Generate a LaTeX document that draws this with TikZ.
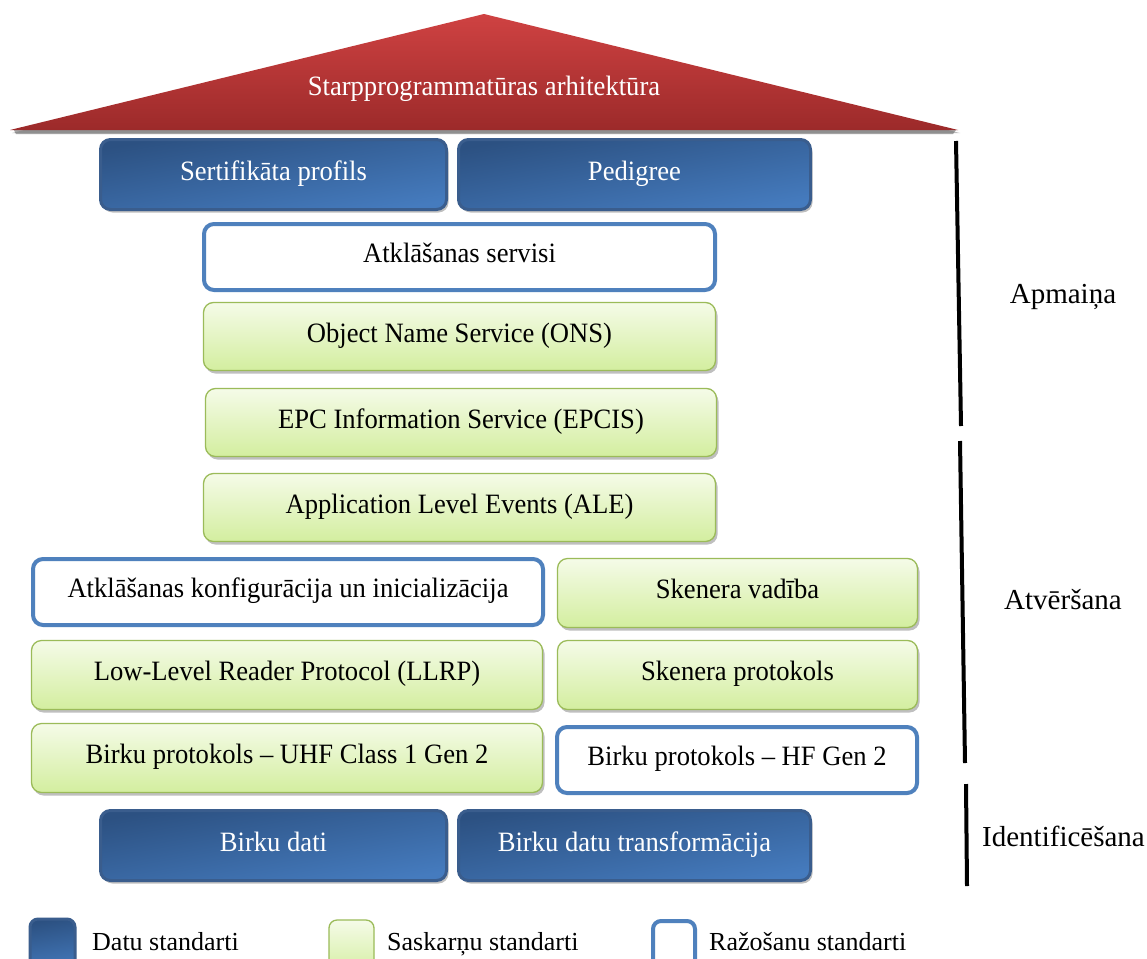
\documentclass[tikz,border=0pt]{standalone}
\usepackage{fontspec}
\setmainfont{Liberation Serif}
\newfontfamily\boxfont[FakeStretch=0.95]{Liberation Serif}
\usetikzlibrary{shadows}

\definecolor{roofTop}{HTML}{CF4242}
\definecolor{roofBot}{HTML}{9C2A2A}
\definecolor{dataTop}{HTML}{2C5182}
\definecolor{dataBot}{HTML}{457BBE}
\definecolor{dataRim}{HTML}{3A5D8D}
\definecolor{ifTop}{HTML}{F5FBE8}
\definecolor{ifBot}{HTML}{D3EE9F}
\definecolor{ifRim}{HTML}{9BBB59}
\definecolor{prodRim}{HTML}{4F81BD}

\tikzset{
  layer/.style={rounded corners=10pt, inner sep=0pt, align=center,
    text height=20pt, text depth=9pt,
    font=\boxfont\fontsize{28}{32}\selectfont},
  shade/.style={drop shadow={shadow xshift=2pt, shadow yshift=-3pt,
    fill=black!55, opacity=.45}},
  datastd/.style={layer, shade, draw=dataRim, line width=3pt, text=white,
    top color=dataTop, bottom color=dataBot, shading angle=10},
  ifstd/.style={layer, shade, draw=ifRim, line width=1.3pt, text=black,
    top color=ifTop, bottom color=ifBot},
  prodstd/.style={layer, draw=prodRim, line width=4pt, fill=white, text=black},
  side/.style={font=\fontsize{29}{33}\selectfont, inner sep=0pt},
  legtext/.style={font=\fontsize{26}{30}\selectfont, anchor=base west, inner sep=0pt},
  bar/.style={line width=4pt, black}
}

\begin{document}
\begin{tikzpicture}[x=1pt, y=-1pt]
  \clip (0,0) rectangle (1147,958);
  \fill[white] (0,0) rectangle (1147,958);

  % roof
  \fill[black!35] (14,130) -- (956,130) -- (953,134) -- (16,134) -- cycle;
  \shade[top color=roofTop, bottom color=roofBot]
    (10,130) -- (484,14) -- (958,130) -- cycle;
  \node[font=\boxfont\fontsize{28}{32}\selectfont, text=white] (roof) at (484,89)
    {Starpprogrammatūras arhitektūra};

  % data standards, top row
  \node[datastd, minimum width=346pt, minimum height=70pt] (cert) at (273.5,174.5) {Sertifikāta profils};
  \node[datastd, minimum width=352pt, minimum height=70pt] (ped) at (634.5,174.5) {Pedigree};

  % central stack
  \node[prodstd, minimum width=511pt, minimum height=66pt] (disc) at (459.5,257) {Atklāšanas servisi};
  \node[ifstd, minimum width=512pt, minimum height=68pt] (ons) at (459.5,336.5) {Object Name Service (ONS)};
  \node[ifstd, minimum width=511pt, minimum height=68pt] (epcis) at (461,422.5) {EPC Information Service (EPCIS)};
  \node[ifstd, minimum width=512pt, minimum height=68pt] (ale) at (459.5,507.5) {Application Level Events (ALE)};

  % reader level
  \node[prodstd, minimum width=510pt, minimum height=66pt] (conf) at (288,592) {Atklāšanas konfigurācija un inicializācija};
  \node[ifstd, minimum width=360pt, minimum height=69pt] (skv) at (737.5,593) {Skenera vadība};
  \node[ifstd, minimum width=511pt, minimum height=69pt] (llrp) at (287,675) {Low-Level Reader Protocol (LLRP)};
  \node[ifstd, minimum width=360pt, minimum height=69pt] (skp) at (737.5,675) {Skenera protokols};
  \node[ifstd, minimum width=511pt, minimum height=69pt] (uhf) at (287,758) {Birku protokols – UHF Class 1 Gen 2};
  \node[prodstd, minimum width=360pt, minimum height=66pt] (hf) at (737,760) {Birku protokols – HF Gen 2};

  % data standards, bottom row
  \node[datastd, minimum width=346pt, minimum height=70pt] (bd) at (273.5,845.5) {Birku dati};
  \node[datastd, minimum width=352pt, minimum height=70pt] (bdt) at (634.5,845.5) {Birku datu transformācija};

  % side brackets
  \coordinate (b1t) at (956,141); \coordinate (b1b) at (961,426);
  \coordinate (b2t) at (960,441); \coordinate (b2b) at (965,763);
  \coordinate (b3t) at (966,784); \coordinate (b3b) at (967,886);
  \draw[bar] (b1t) -- (b1b);
  \draw[bar] (b2t) -- (b2b);
  \draw[bar] (b3t) -- (b3b);
  \node[side] (apm) at (1063,297) {Apmaiņa};
  \node[side] (atv) at (1063,600) {Atvēršana};
  \node[side, anchor=east] (idf) at (1145,836) {Identificēšana};

  % legend
  \draw[rounded corners=8pt, draw=dataRim, line width=3pt, top color=dataTop,
    bottom color=dataBot, shading angle=10] (30,919) rectangle (75,975);
  \draw[rounded corners=8pt, draw=ifRim, line width=1.3pt, top color=ifTop,
    bottom color=ifBot] (329,920) rectangle (374,975);
  \draw[rounded corners=8pt, draw=prodRim, line width=4pt, fill=white]
    (653,921) rectangle (695,975);
  \node[legtext] (l1) at (92,950) {Datu standarti};
  \node[legtext] (l2) at (387,950) {Saskarņu standarti};
  \node[legtext] (l3) at (709,950) {Ražošanu standarti};
\end{tikzpicture}
\end{document}
